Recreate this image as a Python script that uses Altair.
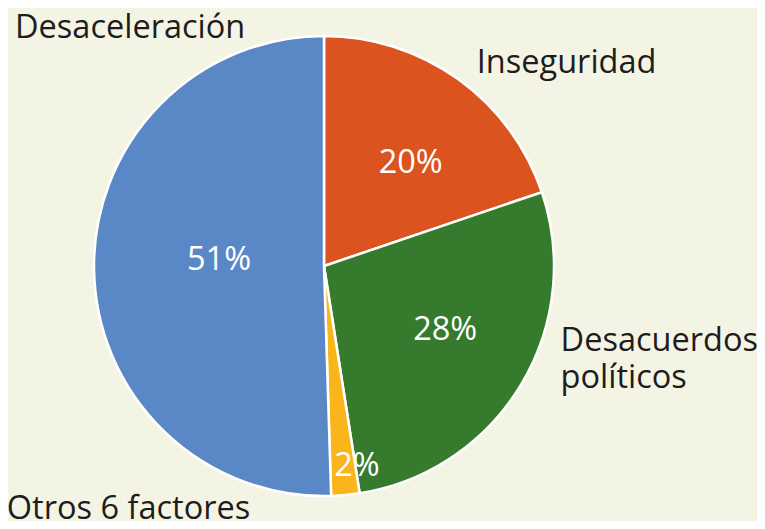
import altair as alt
import pandas as pd

categorias = ["Inseguridad", "Desacuerdos políticos", "Otros 6 factores", "Desaceleración"]
valores = [20, 28, 2, 51]
etiquetas_pct = ["20%", "28%", "2%", "51%"]
etiquetas = ["Inseguridad", "Desacuerdos\npolíticos", "Otros 6 factores", "Desaceleración"]
colores = ["#DB541F", "#367B2D", "#F9B51A", "#5A88C6"]

df = pd.DataFrame({
    "cat": categorias,
    "valor": valores,
    "orden": list(range(len(categorias))),
    "pct": etiquetas_pct,
    "etq": etiquetas,
})

CX, CY = 316, 258
R = 230
FONT = "Open Sans"
FS = 32.5

base = alt.Chart(df).encode(
    theta=alt.Theta("valor:Q", stack=True),
    order=alt.Order("orden:Q"),
    x=alt.value(CX),
    y=alt.value(CY),
)

pie = base.mark_arc(outerRadius=R, stroke="white", strokeWidth=2.5).encode(
    color=alt.Color("cat:N", scale=alt.Scale(domain=categorias, range=colores), legend=None)
)

layers = [pie]

# percentage labels: (radius, dx, dy)
pct_pos = {
    "Inseguridad": (135, 8, 7),
    "Desacuerdos políticos": (137, 4, -7),
    "Otros 6 factores": (203, 14, -2),
    "Desaceleración": (105, 0, -8),
}
for cat, (r, dx, dy) in pct_pos.items():
    layers.append(
        base.mark_text(radius=r, dx=dx, dy=dy, font=FONT, fontSize=FS, color="white",
                       align="center", baseline="middle").encode(
            text=alt.condition(f"datum.cat == '{cat}'", "pct:N", alt.value(""))
        )
    )

# outer labels: (radius, dx, dy)
out_pos = {
    "Inseguridad": (245, 10, 6),
    "Desacuerdos políticos": (245, 27, -42),
    "Otros 6 factores": (245, -340, 9),
    "Desaceleración": (245, -64, -232),
}
for cat, (r, dx, dy) in out_pos.items():
    layers.append(
        base.mark_text(radius=r, dx=dx, dy=dy, font=FONT, fontSize=FS, color="#1E1C1C",
                       align="left", baseline="alphabetic", lineHeight=37,
                       lineBreak="\n").encode(
            text=alt.condition(f"datum.cat == '{cat}'", "etq:N", alt.value(""))
        )
    )

chart = alt.layer(*layers).properties(
    width=749, height=513, padding=0, autosize="none", background="#F4F4E4"
).configure_view(stroke=None)

chart.save("out.html", embed_options={"renderer": "svg", "actions": False})
